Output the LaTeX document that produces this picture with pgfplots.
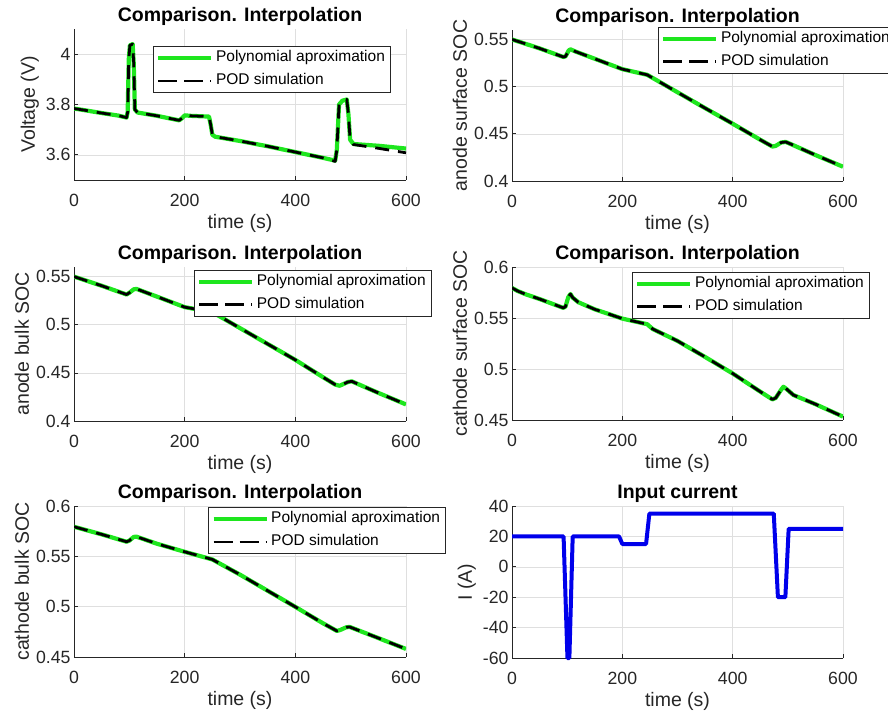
\documentclass[border=0pt]{standalone}
\usepackage{fontspec}
\setmainfont{Liberation Sans}
\usepackage{pgfplots}
\pgfplotsset{compat=1.18}
\definecolor{mgreen}{RGB}{30,230,30}
\definecolor{axgray}{RGB}{38,38,38}
\definecolor{gridgray}{RGB}{223,223,223}
\definecolor{mblue}{RGB}{0,0,235}
\pgfplotsset{
  mat/.style={
    anchor=south west,
    scale only axis, width=332pt, height=151pt,
    xmin=0, xmax=600, xtick={0,200,400,600}, xticklabels={0,200,400,600},
    enlargelimits=false,
    axis lines=left, axis line style={-, axgray, line width=0.7pt},
    tick style={axgray, line width=0.7pt}, major tick length=4pt, tick align=inside,
    grid=major, major grid style={gridgray, line width=0.6pt},
    tick label style={font=\fontsize{17.7}{20}\selectfont, text=axgray},
    xticklabel shift=11pt,
    label style={font=\fontsize{19.5}{22}\selectfont, text=axgray},
    title style={font=\bfseries\fontsize{19.5}{22}\selectfont, text=black, yshift=-6pt},
    xlabel={time (s)},
    legend style={draw=axgray, line width=0.7pt, fill=white, anchor=north west,
      inner xsep=3pt, inner ysep=1pt, row sep=2pt,
      font=\fontsize{15.5}{18}\selectfont,
      nodes={text height=11pt, text depth=4pt, inner ysep=3pt, inner xsep=2.5pt}},
    legend cell align=left,
    legend image code/.code={\draw[##1] (0pt,0pt) -- (53pt,0pt);},
  },
  poly/.style={mgreen, line width=4.2pt, line join=round},
  pod/.style={black, line width=2.8pt, line join=round, dash pattern=on 14pt off 9pt,
    legend image code/.code={\draw[##1, dash pattern=on 19pt off 7pt] (0pt,0pt) -- (53pt,0pt);}},
}
\begin{document}
\begin{tikzpicture}
\useasboundingbox (0,0) rectangle (888pt,720pt);
% ---------- 1: Voltage ----------
\begin{axis}[mat, at={(74pt,540pt)}, width=332pt, height=151pt,
  title={Comparison. Interpolation}, ylabel={Voltage (V)},
  ymin=3.5, ymax=4.1, ytick={3.6,3.8,4}, yticklabels={3.6,3.8,4},
  legend style={at={(0.238,0.887)}}]
\addplot[poly] coordinates {(0,3.784) (20,3.777) (50,3.766) (80,3.756) (95,3.748) (97,3.77) (99,3.98) (101,4.035) (106,4.04) (108,3.96) (110,3.78) (115,3.768) (150,3.755) (190,3.737) (195,3.745) (200,3.757) (210,3.755) (244,3.752) (247,3.72) (250,3.68) (255,3.672) (300,3.655) (350,3.634) (400,3.611) (450,3.588) (472,3.577) (475,3.62) (479,3.80) (485,3.815) (493,3.82) (496,3.76) (499,3.66) (505,3.643) (550,3.636) (600,3.625)};
\addlegendentry{Polynomial aproximation}
\addplot[pod] coordinates {(0,3.784) (20,3.777) (50,3.766) (80,3.756) (95,3.748) (97,3.77) (99,3.98) (101,4.035) (106,4.04) (108,3.96) (110,3.78) (115,3.768) (150,3.755) (190,3.737) (195,3.745) (200,3.757) (210,3.755) (244,3.752) (247,3.72) (250,3.68) (255,3.672) (300,3.655) (350,3.634) (400,3.611) (450,3.588) (472,3.574) (475,3.62) (479,3.80) (485,3.815) (493,3.82) (496,3.76) (499,3.66) (505,3.641) (550,3.626) (600,3.608)};
\addlegendentry{POD simulation}
\end{axis}
% ---------- 2: anode surface ----------
\begin{axis}[mat, at={(512pt,539pt)}, width=331pt, height=151pt,
  title={Comparison. Interpolation}, ylabel={anode surface SOC},
  ymin=0.4, ymax=0.56, ytick={0.4,0.45,0.5,0.55}, yticklabels={0.4,0.45,0.5,0.55},
  legend style={at={(0.441,1.02)}}]
\addplot[poly] coordinates {(0,0.55) (50,0.5405) (93,0.5314) (97,0.532) (103,0.5385) (106,0.5395) (115,0.5372) (150,0.5295) (200,0.5185) (245,0.5125) (260,0.5075) (300,0.494) (350,0.4772) (400,0.4607) (450,0.4437) (472,0.4365) (478,0.4372) (488,0.4408) (496,0.4414) (505,0.4392) (550,0.4275) (600,0.4151)};
\addlegendentry{Polynomial aproximation}
\addplot[pod] coordinates {(0,0.55) (50,0.5405) (93,0.5314) (97,0.532) (103,0.5385) (106,0.5395) (115,0.5372) (150,0.5295) (200,0.5185) (245,0.5125) (260,0.5075) (300,0.494) (350,0.4772) (400,0.4607) (450,0.4437) (472,0.4365) (478,0.4372) (488,0.4408) (496,0.4414) (505,0.4392) (550,0.4275) (600,0.4151)};
\addlegendentry{POD simulation}
\end{axis}
% ---------- 3: anode bulk ----------
\begin{axis}[mat, at={(74pt,299pt)}, width=332pt, height=154pt,
  title={Comparison. Interpolation}, ylabel={anode bulk SOC},
  ymin=0.4, ymax=0.56, ytick={0.4,0.45,0.5,0.55}, yticklabels={0.4,0.45,0.5,0.55},
  legend style={at={(0.361,0.981)}}]
\addplot[poly] coordinates {(0,0.55) (50,0.5405) (95,0.5314) (100,0.5332) (108,0.5368) (113,0.5372) (150,0.5292) (200,0.5183) (250,0.5131) (300,0.4965) (350,0.480) (400,0.4635) (450,0.4455) (472,0.4378) (480,0.4366) (495,0.4405) (502,0.4412) (550,0.4292) (600,0.4172)};
\addlegendentry{Polynomial aproximation}
\addplot[pod] coordinates {(0,0.55) (50,0.5405) (95,0.5314) (100,0.5332) (108,0.5368) (113,0.5372) (150,0.5292) (200,0.5183) (250,0.5131) (300,0.4965) (350,0.480) (400,0.4635) (450,0.4455) (472,0.4378) (480,0.4366) (495,0.4405) (502,0.4412) (550,0.4292) (600,0.4172)};
\addlegendentry{POD simulation}
\end{axis}
% ---------- 4: cathode surface ----------
\begin{axis}[mat, at={(512pt,300pt)}, width=331pt, height=153pt,
  title={Comparison. Interpolation}, ylabel={cathode surface SOC},
  ymin=0.45, ymax=0.6, ytick={0.45,0.5,0.55,0.6}, yticklabels={0.45,0.5,0.55,0.6},
  legend style={at={(0.3625,0.967)}}]
\addplot[poly] coordinates {(0,0.5795) (10,0.5765) (25,0.5732) (50,0.5686) (93,0.5599) (97,0.5612) (102,0.5705) (106,0.5735) (110,0.5700) (120,0.5655) (150,0.5585) (200,0.5494) (245,0.5439) (255,0.5392) (300,0.5275) (350,0.5118) (400,0.4956) (450,0.4778) (472,0.4702) (478,0.4716) (487,0.4790) (492,0.4826) (498,0.4802) (510,0.4745) (550,0.4655) (600,0.4533)};
\addlegendentry{Polynomial aproximation}
\addplot[pod] coordinates {(0,0.5795) (10,0.5765) (25,0.5732) (50,0.5686) (93,0.5599) (97,0.5612) (102,0.5705) (106,0.5735) (110,0.5700) (120,0.5655) (150,0.5585) (200,0.5494) (245,0.5439) (255,0.5392) (300,0.5275) (350,0.5118) (400,0.4956) (450,0.4778) (472,0.4702) (478,0.4716) (487,0.4790) (492,0.4826) (498,0.4802) (510,0.4745) (550,0.4655) (600,0.4533)};
\addlegendentry{POD simulation}
\end{axis}
% ---------- 5: cathode bulk ----------
\begin{axis}[mat, at={(74pt,63pt)}, width=332pt, height=151pt,
  title={Comparison. Interpolation}, ylabel={cathode bulk SOC},
  ymin=0.45, ymax=0.6, ytick={0.45,0.5,0.55,0.6}, yticklabels={0.45,0.5,0.55,0.6},
  legend style={at={(0.404,0.993)}}]
\addplot[poly] coordinates {(0,0.5794) (50,0.5718) (95,0.5645) (100,0.5656) (108,0.5693) (113,0.5695) (150,0.5625) (200,0.5545) (250,0.5469) (300,0.5318) (350,0.5158) (400,0.4998) (450,0.4835) (475,0.4759) (481,0.4768) (492,0.4795) (498,0.4799) (550,0.4688) (600,0.4580)};
\addlegendentry{Polynomial aproximation}
\addplot[pod] coordinates {(0,0.5794) (50,0.5718) (95,0.5645) (100,0.5656) (108,0.5693) (113,0.5695) (150,0.5625) (200,0.5545) (250,0.5469) (300,0.5318) (350,0.5158) (400,0.4998) (450,0.4835) (475,0.4759) (481,0.4768) (492,0.4795) (498,0.4799) (550,0.4688) (600,0.4580)};
\addlegendentry{POD simulation}
\end{axis}
% ---------- 6: current ----------
\begin{axis}[mat, at={(512pt,62pt)}, width=331pt, height=152pt, clip=false,
  title={Input current}, ylabel={I (A)},
  ymin=-60, ymax=40, ytick={-60,-40,-20,0,20,40}, yticklabels={-60,-40,-20,0,20,40}]
\addplot[mblue, line width=4pt, line join=round] coordinates {(0,20) (93.5,20) (100.5,-60) (104,-60) (110,20) (194,20) (200,15) (243,15) (249,35) (474.5,35) (482,-20) (495.5,-20) (501.5,25) (600,25)};
\end{axis}
\end{tikzpicture}
\end{document}
